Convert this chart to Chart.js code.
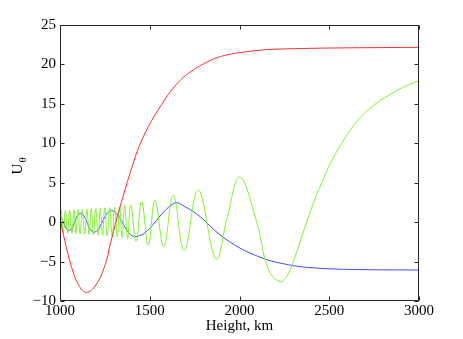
<!DOCTYPE html>
<html><head><meta charset="utf-8">
<script src="https://cdn.jsdelivr.net/npm/chart.js@4/dist/chart.umd.min.js"></script>
<style>html,body{margin:0;padding:0;background:#fff;}#wrap{width:463px;height:339px;}</style>
</head><body><div id="wrap"><canvas id="c" width="463" height="339"></canvas></div>
<script>
const xTicks = [1000, 1500, 2000, 2500, 3000];
const yTicks = [-10, -5, 0, 5, 10, 15, 20, 25];

const redH = [1000, 1026, 1063, 1100, 1142, 1193, 1249, 1280, 1316, 1353, 1400, 1446, 1511, 1557, 1600, 1650, 1700, 1743, 1790, 1836, 1880, 1929, 2003, 2114, 2188, 2350, 2504, 2750, 3000];
const redU = [0.5, -2.3, -5.6, -7.8, -8.9, -8.2, -5.6, -2.8, 0.4, 3.4, 6.9, 9.9, 12.9, 14.6, 16.1, 17.5, 18.6, 19.3, 19.95, 20.5, 20.9, 21.2, 21.5, 21.8, 21.92, 22.02, 22.08, 22.13, 22.17];

const blueH = [1000, 1052, 1115, 1191, 1288, 1423, 1635, 1700, 1780, 1891, 2003, 2058, 2151, 2250, 2337, 2430, 2523, 2708, 3000];
const blueU = [0.9, -1.08, 1.12, -1.29, 1.46, -1.84, 2.39, 1.9, 0.7, -1.6, -3.3, -3.9, -4.75, -5.3, -5.64, -5.82, -5.94, -6.03, -6.07];

const greenH = [1000, 1007, 1018, 1030, 1042, 1054, 1066, 1078, 1089, 1100, 1112, 1124, 1137, 1150, 1162, 1174, 1186, 1199, 1212, 1225, 1237, 1249, 1263, 1277, 1291, 1305, 1319, 1333, 1346, 1360, 1377, 1394, 1424, 1455, 1492, 1529, 1578, 1631, 1692, 1770, 1869, 1929, 2001, 2096, 2161, 2226, 2262, 2300, 2337, 2374, 2415, 2458, 2510, 2569, 2640, 2700, 2764, 2850, 2930, 3000];
const greenU = [0, 1.5, -1.4, 1.5, -1.4, 1.5, -1.4, 1.55, -1.45, 1.6, -1.5, 1.6, -1.5, 1.65, -1.55, 1.7, -1.6, 1.7, -1.65, 1.75, -1.7, 1.8, -1.75, 1.85, -1.8, 1.9, -1.9, 2.0, -2.0, 2.1, -2.1, 2.2, -2.4, 2.6, -2.9, 2.8, -3.1, 3.4, -3.6, 4.1, -4.7, 0.3, 5.7, 0, -6.0, -7.55, -6.9, -5.0, -2.5, 0, 2.6, 5.0, 7.6, 10.0, 12.4, 13.9, 15.1, 16.35, 17.3, 17.94];

const pts = (hs, us) => hs.map((h, i) => ({x: h, y: us[i]}));
const FONT = "'Liberation Serif','Times New Roman',serif";

const frame = {
  id: 'frame',
  afterDraw(chart) {
    const {ctx, chartArea: a, scales: {x, y}} = chart;
    ctx.save();
    ctx.strokeStyle = '#262626';
    ctx.lineWidth = 1;
    const L = Math.round(a.left) + 0.5, R = Math.round(a.right) - 0.5;
    const T = Math.round(a.top) + 0.5, B = Math.round(a.bottom) - 0.5;
    ctx.strokeRect(L, T, R - L, B - T);
    const tl = 4;
    ctx.beginPath();
    xTicks.forEach(v => {
      const px = Math.round(x.getPixelForValue(v)) + 0.5;
      ctx.moveTo(px, B); ctx.lineTo(px, B - tl);
      ctx.moveTo(px, T); ctx.lineTo(px, T + tl);
    });
    yTicks.forEach(v => {
      const py = Math.round(y.getPixelForValue(v)) + 0.5;
      ctx.moveTo(L, py); ctx.lineTo(L + tl, py);
      ctx.moveTo(R, py); ctx.lineTo(R - tl, py);
    });
    ctx.stroke();
    ctx.fillStyle = '#000';
    ctx.font = '15px ' + FONT;
    ctx.textAlign = 'center';
    ctx.textBaseline = 'middle';
    ctx.fillText('Height, km', (a.left + a.right) / 2, 326);
    ctx.translate(17, 166);
    ctx.rotate(-Math.PI / 2);
    ctx.textAlign = 'left';
    ctx.textBaseline = 'alphabetic';
    ctx.font = '15px ' + FONT;
    const w = ctx.measureText('U').width;
    ctx.fillText('U', -w / 2 - 3, 5);
    ctx.font = '11px ' + FONT;
    ctx.fillText('\u03B8', w / 2 - 2, 9);
    ctx.restore();
  }
};

const ds = (hs, us, col) => ({data: pts(hs, us), borderColor: col, showLine: true, pointRadius: 0, borderWidth: 1, tension: 0.4});

new Chart(document.getElementById('c'), {
  type: 'scatter',
  data: {
    datasets: [
      ds(redH, redU, '#ff2a2a'),
      ds(greenH, greenU, '#80f030'),
      ds(blueH, blueU, '#3a4cff')
    ]
  },
  options: {
    responsive: false,
    animation: false,
    events: [],
    layout: {padding: {top: 25, right: 44, left: 0, bottom: 0}},
    plugins: {legend: {display: false}, tooltip: {enabled: false}},
    scales: {
      x: {
        type: 'linear', min: 1000, max: 3000,
        afterBuildTicks: s => { s.ticks = xTicks.map(v => ({value: v})); },
        afterFit: s => { s.height = 38; },
        grid: {display: false, drawTicks: false},
        border: {display: false},
        ticks: {color: '#000', font: {family: FONT, size: 15}, padding: 1, maxRotation: 0, autoSkip: false,
          callback: v => String(v)}
      },
      y: {
        type: 'linear', min: -10, max: 25,
        afterBuildTicks: s => { s.ticks = yTicks.map(v => ({value: v})); },
        afterFit: s => { s.width = 60; },
        grid: {display: false, drawTicks: false},
        border: {display: false},
        ticks: {color: '#000', font: {family: FONT, size: 15}, padding: 4, autoSkip: false,
          callback: v => (v < 0 ? '\u2212' + Math.abs(v) : String(v))}
      }
    }
  },
  plugins: [frame]
});
</script>
</body></html>
